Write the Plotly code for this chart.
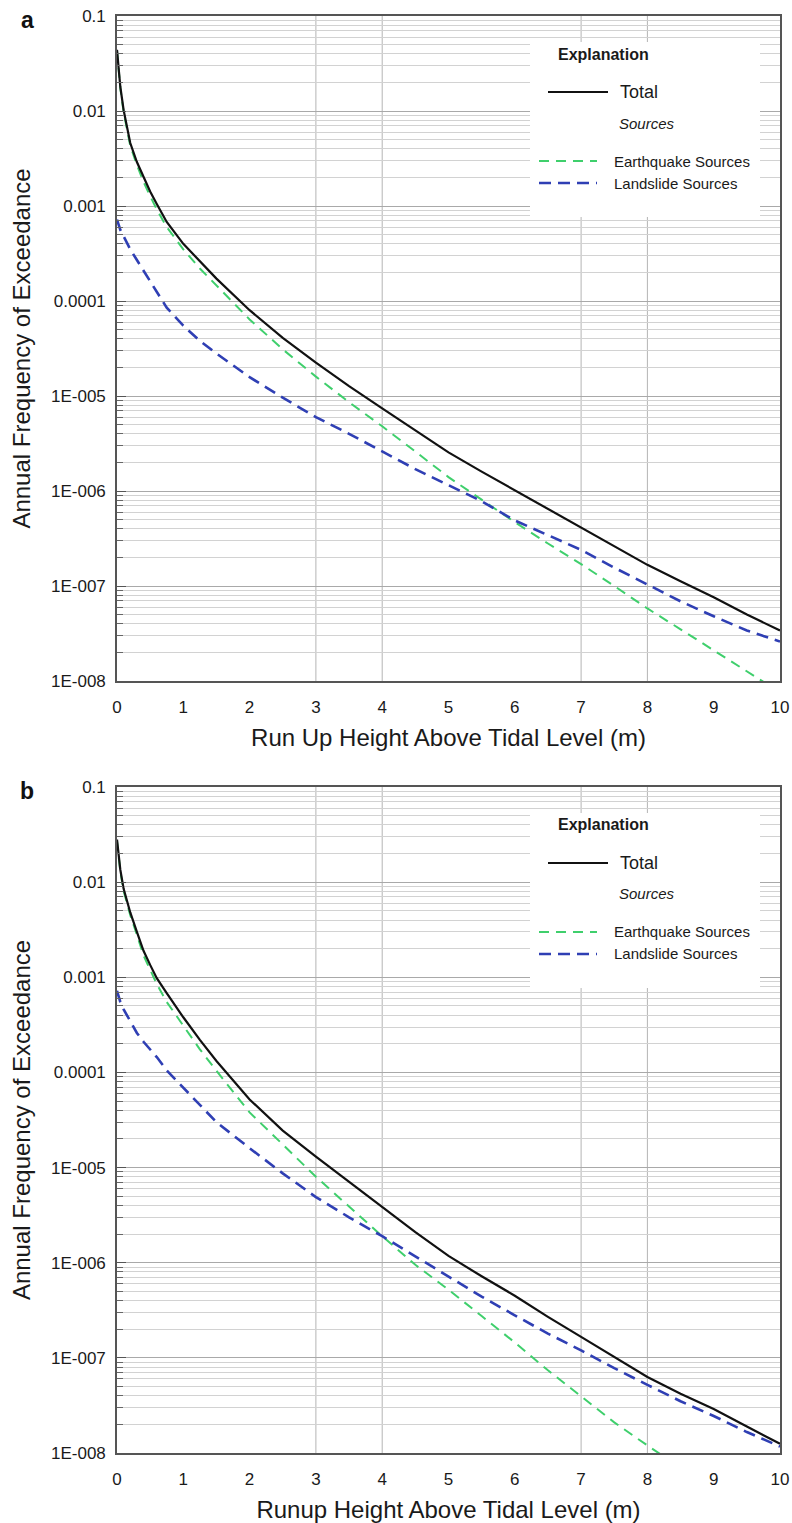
import plotly.graph_objects as go

# ---------------- data ----------------
# run-up height (m)
X = [0, 0.05, 0.1, 0.2, 0.3, 0.4, 0.5, 0.6, 0.75, 1, 1.25, 1.5, 2, 2.5, 3, 3.5,
     4, 4.5, 5, 5.5, 6, 6.5, 7, 7.5, 8, 8.5, 9, 9.5, 10]

# panel a: annual frequency of exceedance
TOTAL_A = [0.044, 0.018, 0.0102, 0.0046, 0.0029, 0.0020, 0.00142, 0.00105, 0.00068,
           0.00040, 0.00026, 0.000172, 8.0e-5, 4.1e-5, 2.25e-5, 1.27e-5, 7.4e-6,
           4.3e-6, 2.55e-6, 1.6e-6, 1.02e-6, 6.4e-7, 4.1e-7, 2.6e-7, 1.67e-7,
           1.12e-7, 7.6e-8, 5.0e-8, 3.4e-8]
EQ_A = [0.043, 0.0174, 0.0097, 0.0043, 0.0027, 0.0018, 0.00127, 0.00092, 0.00060,
        0.00035, 0.00022, 0.000145, 6.4e-5, 3.1e-5, 1.6e-5, 8.6e-6, 4.8e-6, 2.6e-6,
        1.4e-6, 8.1e-7, 4.7e-7, 2.8e-7, 1.7e-7, 1.0e-7, 5.8e-8, 3.5e-8, 2.1e-8,
        1.26e-8, 7.6e-9]
LS_A = [0.00072, 0.00056, 0.00048, 0.00035, 0.00027, 0.00021, 0.000162, 0.000125,
        8.5e-5, 5.5e-5, 3.8e-5, 2.8e-5, 1.58e-5, 9.6e-6, 6.0e-6, 4.0e-6, 2.6e-6,
        1.7e-6, 1.15e-6, 7.8e-7, 4.9e-7, 3.4e-7, 2.4e-7, 1.56e-7, 1.03e-7, 6.9e-8,
        4.8e-8, 3.4e-8, 2.6e-8]

# panel b
TOTAL_B = [0.028, 0.0135, 0.0085, 0.0048, 0.0030, 0.0019, 0.00135, 0.00098, 0.00068,
           0.00038, 0.00022, 0.000132, 5.2e-5, 2.45e-5, 1.3e-5, 7.1e-6, 3.9e-6, 2.1e-6,
           1.18e-6, 7.2e-7, 4.5e-7, 2.7e-7, 1.66e-7, 1.02e-7, 6.3e-8, 4.2e-8, 2.9e-8,
           1.9e-8, 1.25e-8]
X_EQ_B = [0, 0.05, 0.1, 0.2, 0.3, 0.4, 0.5, 0.6, 0.75, 1, 1.25, 1.5, 2, 2.5, 3, 3.5,
          4, 4.5, 5, 5.5, 6, 6.5, 7, 7.5, 8, 8.5]
EQ_B = [0.027, 0.013, 0.0081, 0.0045, 0.0028, 0.0017, 0.0012, 0.00085, 0.00055,
        0.00031, 0.000175, 0.000104, 3.8e-5, 1.75e-5, 8.0e-6, 3.9e-6, 1.9e-6, 9.5e-7,
        5.2e-7, 2.75e-7, 1.45e-7, 7.4e-8, 3.9e-8, 2.1e-8, 1.2e-8, 7.0e-9]
LS_B = [0.00072, 0.00055, 0.00046, 0.00034, 0.00026, 0.00021, 0.000175, 0.000145,
        0.000105, 6.9e-5, 4.5e-5, 3.0e-5, 1.6e-5, 8.7e-6, 4.9e-6, 3.0e-6, 1.9e-6,
        1.17e-6, 7.1e-7, 4.4e-7, 2.8e-7, 1.8e-7, 1.2e-7, 7.8e-8, 5.2e-8, 3.5e-8,
        2.45e-8, 1.66e-8, 1.17e-8]

X_TICKS = [0, 1, 2, 3, 4, 5, 6, 7, 8, 9, 10]
Y_TICKS = [1e-1, 1e-2, 1e-3, 1e-4, 1e-5, 1e-6, 1e-7, 1e-8]
Y_TICK_TEXT = ["0.1", "0.01", "0.001", "0.0001", "1E-005", "1E-006", "1E-007", "1E-008"]
X_GRID = [3, 4, 7, 8]

X_TITLES = ["Run Up Height Above Tidal Level (m)", "Runup Height Above Tidal Level (m)"]
Y_TITLE = "Annual Frequency of Exceedance"
PANEL_LABELS = ["a", "b"]

# ---------------- styling ----------------
FONT = "Liberation Sans, Arial, sans-serif"
STYLES = {
    "Total": dict(color="#111111", width=2.2, dash="solid"),
    "Earthquake Sources": dict(color="#3fcf6c", width=2.0, dash="10px,7px"),
    "Landslide Sources": dict(color="#2f3fb4", width=2.6, dash="12px,7px"),
}

W, H = 792, 1523
ML, MR, MT, MB = 117, 12, 16, 70
PLOT_W = W - ML - MR
PLOT_H = H - MT - MB
PANELS = [(16, 681), (787, 1453)]  # (top, bottom) in page pixels


def ydomain(top, bot):
    return [(H - MB - bot) / PLOT_H, (H - MB - top) / PLOT_H]


fig = go.Figure()

series = [
    (X, TOTAL_A, X, EQ_A, X, LS_A),
    (X, TOTAL_B, X_EQ_B, EQ_B, X, LS_B),
]

minor_vals = [m * 10.0 ** e for e in range(-8, -1) for m in range(2, 10)]

for i, (xt, yt, xe, ye, xl, yl) in enumerate(series):
    n = "" if i == 0 else str(i + 1)
    xa, ya = "x" + n, "y" + n
    for name, xs, ys in [("Earthquake Sources", xe, ye),
                         ("Landslide Sources", xl, yl),
                         ("Total", xt, yt)]:
        fig.add_trace(go.Scatter(x=xs, y=ys, mode="lines", name=name,
                                 line=STYLES[name], xaxis=xa, yaxis=ya,
                                 showlegend=False, hoverinfo="skip"))

    top, bot = PANELS[i]
    fig.update_layout({
        "xaxis" + n: dict(
            domain=[0, 1], anchor=ya, range=[0, 10], tickvals=X_TICKS,
            ticks="", showgrid=False, zeroline=False,
            showline=True, linecolor="#555555", linewidth=1.6, mirror=True,
            tickfont=dict(size=17, color="#1a1a1a", family=FONT),
            ticklabelstandoff=10,
            title=dict(text=X_TITLES[i], font=dict(size=24, color="#1a1a1a", family=FONT),
                       standoff=13),
        ),
        "yaxis" + n: dict(
            domain=ydomain(top, bot), anchor=xa, type="log", range=[-8, -1],
            tickvals=Y_TICKS, ticktext=Y_TICK_TEXT,
            ticks="inside", ticklen=9, tickcolor="#555555", tickwidth=1,
            showgrid=True, gridcolor="#a9a9a9", gridwidth=1,
            minor=dict(tickvals=minor_vals, ticks="inside", ticklen=6,
                       tickcolor="#666666", showgrid=True, gridcolor="#d2d2d2",
                       gridwidth=1),
            zeroline=False, showline=True, linecolor="#555555", linewidth=1.6,
            mirror=True, ticklabelstandoff=6,
            tickfont=dict(size=17, color="#1a1a1a", family=FONT),
            title=dict(text=Y_TITLE, font=dict(size=24, color="#1a1a1a", family=FONT),
                       standoff=14),
        ),
    })

    # sparse vertical grid lines
    for gx in X_GRID:
        fig.add_shape(type="line", xref=xa, yref=ya + " domain", x0=gx, x1=gx,
                      y0=0, y1=1, layer="below",
                      line=dict(color="#b4b4b4", width=1))

    ph = bot - top

    def dx(px):
        return (px - ML) / PLOT_W

    def dy(off):
        return 1 - off / ph

    xr, yr = xa + " domain", ya + " domain"

    # explanation box
    fig.add_shape(type="rect", xref=xr, yref=yr, x0=dx(530), x1=dx(760),
                  y0=dy(201), y1=dy(26), layer="above",
                  fillcolor="white", line=dict(width=0))
    fig.add_annotation(xref=xr, yref=yr, x=dx(603), y=dy(38), text="<b>Explanation</b>",
                       showarrow=False, xanchor="center", yanchor="middle",
                       font=dict(size=16, color="#1a1a1a", family=FONT))
    entries = [("Total", 548, 608, 618, 76, 18),
               ("Earthquake Sources", 539, 597, 612, 145, 15),
               ("Landslide Sources", 539, 597, 612, 167, 15)]
    for name, lx0, lx1, tx, off, fs in entries:
        st = STYLES[name]
        fig.add_shape(type="line", xref=xr, yref=yr, x0=dx(lx0), x1=dx(lx1),
                      y0=dy(off), y1=dy(off), layer="above",
                      line=dict(color=st["color"], width=st["width"], dash=st["dash"]))
        fig.add_annotation(xref=xr, yref=yr, x=dx(tx), y=dy(off), text=name,
                           showarrow=False, xanchor="left", yanchor="middle",
                           font=dict(size=fs, color="#1a1a1a", family=FONT))
    fig.add_annotation(xref=xr, yref=yr, x=dx(617), y=dy(107), text="<i>Sources</i>",
                       showarrow=False, xanchor="left", yanchor="middle",
                       font=dict(size=15, color="#1a1a1a", family=FONT))

    # panel letter
    fig.add_annotation(xref=xr, yref=yr, x=dx(27), y=dy(4),
                       text="<b>" + PANEL_LABELS[i] + "</b>", showarrow=False,
                       xanchor="center", yanchor="middle",
                       font=dict(size=23, color="#111111", family=FONT))

fig.update_layout(
    width=W, height=H,
    margin=dict(l=ML, r=MR, t=MT, b=MB, autoexpand=False),
    paper_bgcolor="white", plot_bgcolor="white",
    font=dict(family=FONT, color="#1a1a1a"),
    showlegend=False,
)

fig.write_html("out.html")
